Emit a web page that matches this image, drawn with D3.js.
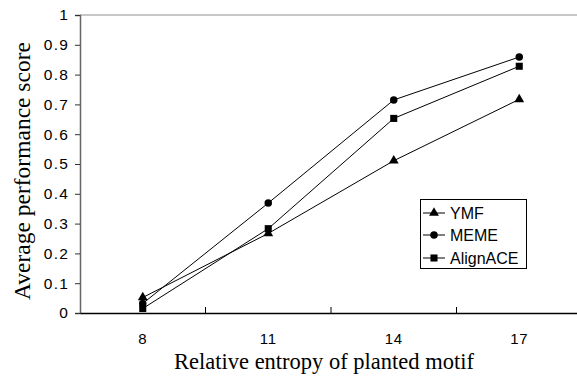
<!DOCTYPE html>
<html><head><meta charset="utf-8">
<script src="https://cdn.jsdelivr.net/npm/d3@7"></script>
<style>body{margin:0;background:#fff}svg{display:block}</style>
</head><body>
<script>
const categories = ["8", "11", "14", "17"];
const ymf = [0.052, 0.267, 0.511, 0.717];
const meme = [0.032, 0.369, 0.715, 0.859];
const alignace = [0.015, 0.283, 0.653, 0.828];
const yTicks = [0, 0.1, 0.2, 0.3, 0.4, 0.5, 0.6, 0.7, 0.8, 0.9, 1];
const seriesNames = ["YMF", "MEME", "AlignACE"];
const seriesValues = [ymf, meme, alignace];

(function () {
const symbols = [d3.symbolTriangle, d3.symbolCircle, d3.symbolSquare];
const symSizes = [42, 44, 50];

const W = 577, H = 377;
const mLeft = 80, mRight = 582, mTop = 15, mBottom = 313;
const svg = d3.select("body").append("svg").attr("width", W).attr("height", H);

const x = d3.scaleBand().domain(categories).range([mLeft, mRight]);
const y = d3.scaleLinear().domain([0, 1]).range([mBottom, mTop]);

svg.append("line").attr("x1", mLeft).attr("x2", W).attr("y1", y(1)).attr("y2", y(1))
  .attr("stroke", "#b4b4b4").attr("stroke-width", 1.5);

const ya = svg.append("g").attr("transform", `translate(${mLeft},0)`)
  .call(d3.axisLeft(y).tickValues(yTicks).tickFormat(d => d === 0 ? "0" : d === 1 ? "1" : d3.format(".1f")(d)).tickSize(5).tickPadding(6));
ya.select(".domain").attr("stroke", "#666").attr("stroke-width", 1.5);
ya.selectAll(".tick line").attr("stroke", "#333");
ya.selectAll("text").attr("font-family", "Liberation Sans, Arial, sans-serif").attr("font-size", 15.5)
  .attr("letter-spacing", "1.2px").attr("fill", "#000");

const xa = svg.append("g").attr("transform", `translate(0,${mBottom})`)
  .call(d3.axisBottom(x).tickSize(0).tickPadding(20));
xa.select(".domain").attr("stroke", "#000").attr("stroke-width", 1.5);
xa.selectAll("text").attr("font-family", "Liberation Sans, Arial, sans-serif").attr("font-size", 15)
  .attr("letter-spacing", "0.6px").attr("fill", "#000");
const bounds = categories.slice(1).map(c => x(c));
svg.selectAll(".btick").data(bounds).enter().append("line")
  .attr("x1", d => d).attr("x2", d => d).attr("y1", mBottom).attr("y2", mBottom - 6)
  .attr("stroke", "#000").attr("stroke-width", 1);

const cx = c => x(c) + x.bandwidth() / 2;
const line = d3.line().x((d, i) => cx(categories[i])).y(d => y(d));

seriesValues.forEach((vals, si) => {
  svg.append("path").datum(vals).attr("d", line).attr("fill", "none")
    .attr("stroke", "#000").attr("stroke-width", 1);
  svg.selectAll(".m" + si).data(vals).enter().append("path")
    .attr("transform", (d, i) => `translate(${cx(categories[i])},${y(d)})`)
    .attr("d", d3.symbol().type(symbols[si]).size(symSizes[si])).attr("fill", "#000");
});

svg.append("text").attr("x", 324).attr("y", 369)
  .attr("text-anchor", "middle").attr("font-family", "Liberation Serif, Times New Roman, serif")
  .attr("font-size", 22.5).text("Relative entropy of planted motif");
svg.append("text").attr("transform", `translate(30,171) rotate(-90)`)
  .attr("text-anchor", "middle").attr("font-family", "Liberation Serif, Times New Roman, serif")
  .attr("font-size", 23.5).text("Average performance score");

const lg = svg.append("g");
lg.append("rect").attr("x", 420.5).attr("y", 199.5).attr("width", 106).attr("height", 69)
  .attr("fill", "#fff").attr("stroke", "#000").attr("stroke-width", 1);
const ly = [213, 235, 258];
seriesNames.forEach((n, i) => {
  lg.append("line").attr("x1", 423).attr("x2", 445).attr("y1", ly[i]).attr("y2", ly[i]).attr("stroke", "#000");
  lg.append("path").attr("transform", `translate(434,${ly[i]})`)
    .attr("d", d3.symbol().type(symbols[i]).size(symSizes[i])).attr("fill", "#000");
  lg.append("text").attr("x", 450).attr("y", ly[i]).attr("dy", "0.35em")
    .attr("font-family", "Liberation Sans, Arial, sans-serif").attr("font-size", 16).text(n);
});
})();
</script>
</body></html>
